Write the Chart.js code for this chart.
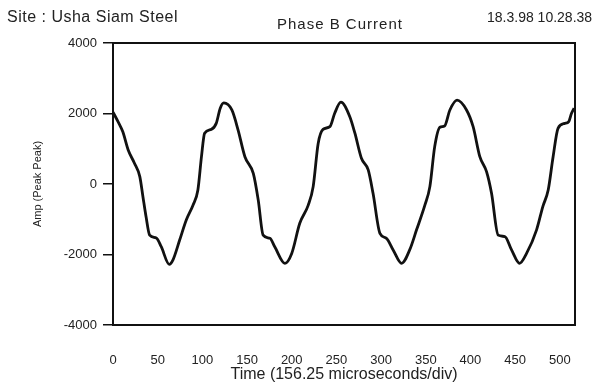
<!DOCTYPE html>
<html>
<head>
<meta charset="utf-8">
<script src="https://cdn.jsdelivr.net/npm/chart.js@4"></script>
<style>
  html, body { margin: 0; padding: 0; background: #fff; }
  #wrap { position: relative; width: 604px; height: 389px; font-family: "Liberation Sans", Arial, sans-serif; color: #222; }
  #wrap canvas { position: absolute; left: 0; top: 0; }
  .hdr { position: absolute; white-space: nowrap; line-height: 1; }
  #site { left: 7px; top: 9px; font-size: 16px; letter-spacing: 0.5px; }
  #phase { left: 277px; top: 16px; font-size: 15px; letter-spacing: 1px; }
  #stamp { left: 487px; top: 10px; font-size: 14px; }
</style>
</head>
<body>
<div id="wrap">
  <canvas id="c" width="604" height="389"></canvas>
  <div class="hdr" id="site">Site : Usha Siam Steel</div>
  <div class="hdr" id="phase">Phase B Current</div>
  <div class="hdr" id="stamp">18.3.98 10.28.38</div>
</div>
<script>
// sample index
const sampleIdx = [0, 5.6, 11, 17, 24, 30, 33.5, 37, 41, 48.5, 54, 63, 67, 74.6, 82, 89.5, 95, 99, 102.5, 110, 115.5, 120, 124,
  133, 140, 147.6, 157, 162.5, 168, 175.6, 181, 192.4, 200, 209, 218.5, 224, 229.6, 235, 242.7, 248, 255,
  265, 270.7, 278, 285.6, 291, 298.7, 306, 313.5, 323, 332, 339.7, 349, 354.6, 360, 365.8, 371, 377, 385,
  395.6, 403, 410.5, 418, 423.6, 431, 438.5, 446, 455, 462.8, 474, 481, 487, 492.5, 498, 505.6, 510, 513, 516];
// amplitude (peak) at each sample
const ampValues = [2040, 1770, 1480, 965, 590, 210, -360, -930, -1450, -1530, -1780, -2280, -2160, -1590, -1020, -600, -170, 775, 1440, 1550, 1720, 2150, 2300,
  2100, 1530, 775, 300, -450, -1450, -1540, -1780, -2250, -1970, -1115, -600, -75, 1150, 1550, 1625, 2000, 2320,
  1910, 1440, 730, 400, -265, -1400, -1540, -1870, -2250, -1870, -1300, -600, -75, 1060, 1610, 1645, 2100, 2380,
  2100, 1625, 775, 350, -265, -1450, -1490, -1870, -2250, -1970, -1300, -640, -170, 775, 1580, 1720, 1770, 2000, 2150];
const yTicks = [4000, 2000, 0, -2000, -4000];
const xTicks = [0, 50, 100, 150, 200, 250, 300, 350, 400, 450, 500];

const points = sampleIdx.map((x, i) => ({x: x, y: ampValues[i]}));
const ink = '#222';

// box round the plot area
const frame = {
  id: 'frame',
  afterDatasetsDraw(chart){
    const a = chart.chartArea, ctx = chart.ctx;
    ctx.save();
    ctx.strokeStyle = '#111';
    ctx.lineWidth = 2;
    ctx.strokeRect(a.left, a.top, a.right - a.left, a.bottom - a.top);
    ctx.restore();
  }
};

new Chart(document.getElementById('c'), {
  type: 'line',
  data: {datasets: [{data: points, borderColor: '#111', borderWidth: 2.8, pointRadius: 0, cubicInterpolationMode: 'monotone', fill: false}]},
  options: {
    responsive: false,
    animation: false,
    layout: {padding: {left: 0, top: 43, right: 29, bottom: 0}},
    plugins: {legend: {display: false}, tooltip: {enabled: false}},
    scales: {
      x: {
        type: 'linear', min: 0, max: 517,
        afterFit(s){ s.height = 64; },
        afterBuildTicks(s){ s.ticks = xTicks.map(v => ({value: v})); },
        grid: {display: false, drawTicks: false},
        border: {display: false},
        ticks: {padding: 28, color: ink, font: {family: 'Liberation Sans', size: 13}, maxRotation: 0,
          callback: v => String(v)},
        title: {display: true, text: 'Time (156.25 microseconds/div)', color: ink, padding: {top: 5, bottom: 5},
          font: {family: 'Liberation Sans', size: 16}}
      },
      y: {
        min: -4000, max: 4000,
        afterFit(s){ s.width = 113; },
        afterBuildTicks(s){ s.ticks = yTicks.map(v => ({value: v})); },
        grid: {drawOnChartArea: false, drawTicks: true, tickLength: 10, color: '#111', lineWidth: 1.5},
        border: {display: false},
        ticks: {padding: 6, color: ink, font: {family: 'Liberation Sans', size: 13}, callback: v => String(v)},
        title: {display: true, text: 'Amp (Peak Peak)', color: ink, padding: {top: 31, bottom: 0},
          font: {family: 'Liberation Sans', size: 11}}
      }
    }
  },
  plugins: [frame]
});
</script>
</body>
</html>
